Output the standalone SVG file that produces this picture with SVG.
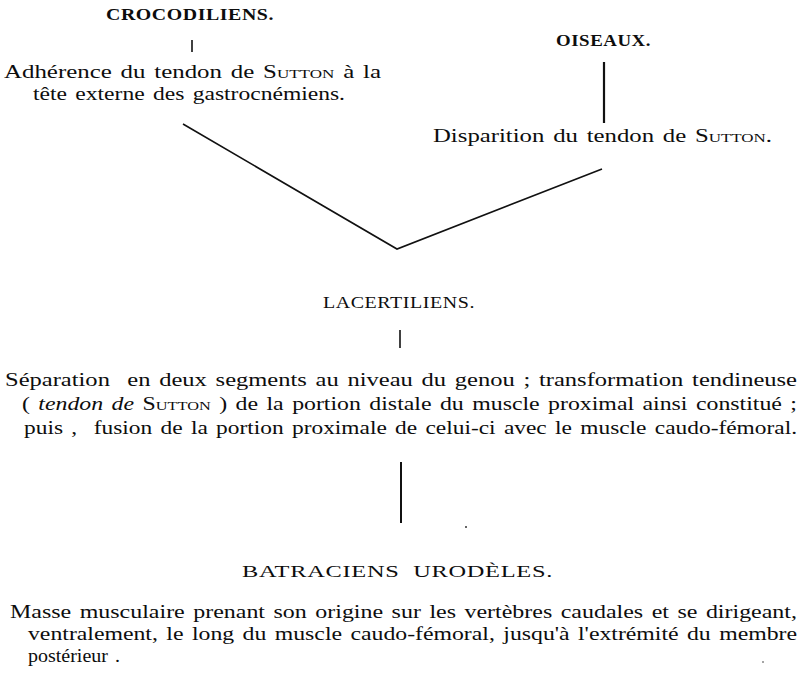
<svg xmlns="http://www.w3.org/2000/svg" width="801" height="678" viewBox="0 0 801 678">
<style>
text{font-family:"Liberation Serif","Times New Roman",serif;font-size:19px;fill:#0d0d0d;word-spacing:2px;white-space:pre}
.h{font-size:17px;letter-spacing:0.5px;word-spacing:0}
.hb{font-weight:bold}
.sc{font-variant:small-caps}
.ln{stroke:#111;fill:none;stroke-linecap:butt}
.speck{fill:#333}
</style>
<rect width="801" height="678" fill="#fff"/>
<g id="crocodiliens">
<text class="h hb" x="106" y="20" textLength="168" lengthAdjust="spacingAndGlyphs">CROCODILIENS.</text>
<text x="4" y="78" textLength="377" lengthAdjust="spacingAndGlyphs">Adhérence du tendon de <tspan class="sc">Sutton</tspan> à la</text>
<text x="33" y="100" textLength="312" lengthAdjust="spacingAndGlyphs">tête externe des gastrocnémiens.</text>
</g>
<g id="oiseaux">
<text class="h hb" x="556" y="46" textLength="95" lengthAdjust="spacingAndGlyphs">OISEAUX.</text>
<text x="433" y="142" textLength="339" lengthAdjust="spacingAndGlyphs">Disparition du tendon de <tspan class="sc">Sutton</tspan>.</text>
</g>
<g id="lacertiliens">
<text class="h" x="323" y="308" textLength="152" lengthAdjust="spacingAndGlyphs">LACERTILIENS.</text>
<text x="5" y="386" textLength="792" lengthAdjust="spacingAndGlyphs">Séparation  en deux segments au niveau du genou ; transformation tendineuse</text>
<text x="22" y="410" textLength="775" lengthAdjust="spacingAndGlyphs">( <tspan font-style="italic">tendon de</tspan> <tspan class="sc">Sutton</tspan> ) de la portion distale du muscle proximal ainsi constitué ;</text>
<text x="24" y="434" textLength="773" lengthAdjust="spacingAndGlyphs">puis ,  fusion de la portion proximale de celui-ci avec le muscle caudo-fémoral.</text>
</g>
<g id="batraciens">
<text class="h" x="242" y="577" textLength="311" lengthAdjust="spacingAndGlyphs">BATRACIENS  URODÈLES.</text>
<text x="10" y="618" textLength="787" lengthAdjust="spacingAndGlyphs">Masse musculaire prenant son origine sur les vertèbres caudales et se dirigeant,</text>
<text x="28" y="640" textLength="769" lengthAdjust="spacingAndGlyphs">ventralement, le long du muscle caudo-fémoral, jusqu'à l'extrémité du membre</text>
<text x="28" y="662" textLength="92" lengthAdjust="spacingAndGlyphs">postérieur .</text>
</g>
<g id="connectors">
<line class="ln" x1="192" y1="40" x2="192" y2="52" stroke-width="1.6"/>
<line class="ln" x1="604" y1="62" x2="604" y2="123" stroke-width="2.2"/>
<polyline class="ln" points="183,124 397,249 602,169" stroke-width="1.6"/>
<line class="ln" x1="400" y1="330" x2="400" y2="348" stroke-width="1.6"/>
<line class="ln" x1="401" y1="462" x2="401" y2="523" stroke-width="2"/>
</g>
<circle class="speck" cx="466" cy="527" r="1"/>
<circle class="speck" cx="763" cy="662" r="0.8"/>
</svg>
